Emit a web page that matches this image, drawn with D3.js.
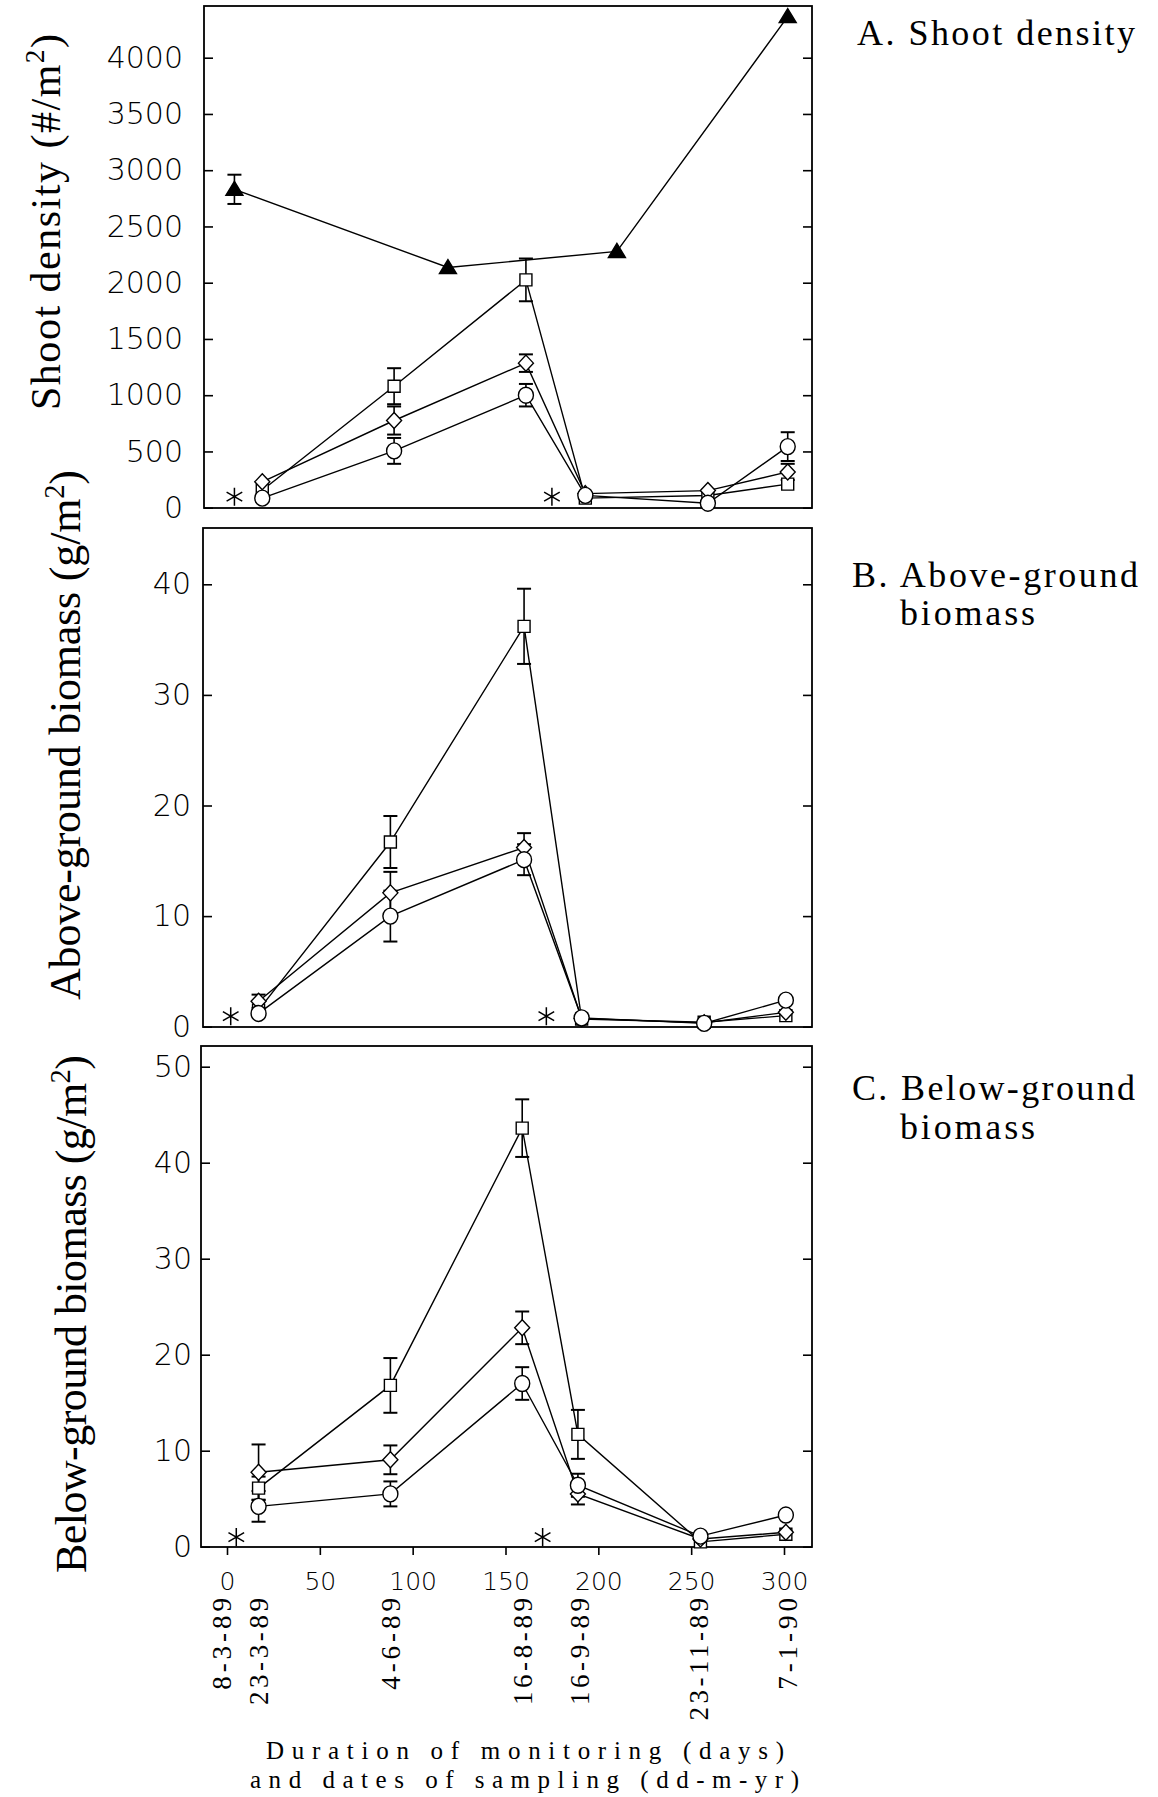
<!DOCTYPE html>
<html>
<head>
<meta charset="utf-8">
<script src="https://cdn.jsdelivr.net/npm/d3@7"></script>
<style>
  body { margin: 0; background: #fff; }
  svg { display: block; background: #fff; }
</style>
</head>
<body>
<svg></svg>
<script>
// sampling days as they sit in each panel
var daysA = [19, 90, 161, 193, 259, 302];
var daysB = [17, 88, 160, 191, 257, 301];
var daysC = [17, 88, 159, 189, 255, 301];

// A. shoot density (#/m2)
var shootCircle    = [85, 505, 1000, 110, 40, 543];
var shootCircleSE  = [0, 115, 100, 0, 0, 128];
var shootDiamond   = [230, 775, 1285, 125, 152, 318];
var shootDiamondSE = [0, 125, 78, 0, 0, 72];
var shootSquare    = [155, 1080, 2025, 85, 108, 210];
var shootSquareSE  = [0, 160, 190, 0, 0, 0];
var triangleDays   = [4, 119, 210, 302];
var shootTriangle  = [2830, 2135, 2278, 4365];
var shootTriangleSE = [130, 0, 0, 0];

// B. above-ground biomass (g/m2)
var aboveCircle    = [1.2, 10.0, 15.1, 0.8, 0.3, 2.4];
var aboveCircleSE  = [0, 2.3, 1.4, 0, 0, 0];
var aboveDiamond   = [2.3, 12.1, 16.2, 0.75, 0.35, 1.3];
var aboveDiamondSE = [0.6, 1.9, 1.3, 0, 0, 0];
var aboveSquare    = [1.5, 16.7, 36.2, 0.7, 0.4, 1.0];
var aboveSquareSE  = [0, 2.35, 3.4, 0, 0, 0];

// C. below-ground biomass (g/m2)
var belowCircle    = [4.2, 5.5, 17.0, 6.4, 1.1, 3.3];
var belowCircleSE  = [1.6, 1.3, 1.7, 1.2, 0, 0];
var belowDiamond   = [7.75, 9.05, 22.8, 5.5, 0.8, 1.5];
var belowDiamondSE = [2.9, 1.5, 1.7, 1.1, 0, 0];
var belowSquare    = [6.1, 16.8, 43.6, 11.7, 0.5, 1.3];
var belowSquareSE  = [1.2, 2.85, 3.0, 2.55, 0, 0];

// asterisks
var starDaysA = [4, 175],  starA = [98, 98];
var starDaysB = [2, 172],  starB = [0.95, 0.95];
var starDaysC = [5, 170],  starC = [1.0, 1.0];

// ticks and labels
var shootTicks = [0, 500, 1000, 1500, 2000, 2500, 3000, 3500, 4000];
var aboveTicks = [0, 10, 20, 30, 40];
var belowTicks = [0, 10, 20, 30, 40, 50];
var dayTicks = [0, 50, 100, 150, 200, 250, 300];
var dateLabels = ['8-3-89', '23-3-89', '4-6-89', '16-8-89', '16-9-89', '23-11-89', '7-1-90'];
var datePos = [-3, 17, 88, 159, 190, 254, 302];

var svgWidth = 1158;
var svgHeight = 1797;
var serif = '"Liberation Serif", serif';
var sans = '"DejaVu Sans", sans-serif';

var svg = d3.select('svg')
    .attr('width', svgWidth)
    .attr('height', svgHeight);

var x = d3.scaleLinear().domain([0, 300]).range([227, 784]);

var panels = [
  { left: 204, right: 812, top: 6, bottom: 508, pad: 21,
    y: d3.scaleLinear().domain([0, 4000]).range([507.7, 57.7]), ticks: shootTicks,
    series: [
      { shape: 'square', days: daysA, v: shootSquare, se: shootSquareSE },
      { shape: 'diamond', days: daysA, v: shootDiamond, se: shootDiamondSE },
      { shape: 'circle', days: daysA, v: shootCircle, se: shootCircleSE },
      { shape: 'triangle', days: triangleDays, v: shootTriangle, se: shootTriangleSE }
    ],
    stars: { days: starDaysA, v: starA },
    title: 'Shoot density (#/m', tx: 45, ty: 222, tlen: 376, tsize: 42,
    label: [{ t: 'A. Shoot density', x: 857, y: 45, len: 278 }] },
  { left: 203, right: 812, top: 528, bottom: 1027, pad: 12,
    y: d3.scaleLinear().domain([0, 40]).range([1026.7, 584.3]), ticks: aboveTicks,
    series: [
      { shape: 'square', days: daysB, v: aboveSquare, se: aboveSquareSE },
      { shape: 'diamond', days: daysB, v: aboveDiamond, se: aboveDiamondSE },
      { shape: 'circle', days: daysB, v: aboveCircle, se: aboveCircleSE }
    ],
    stars: { days: starDaysB, v: starB },
    title: 'Above-ground biomass (g/m', tx: 65, ty: 735, tlen: 530, tsize: 44,
    label: [{ t: 'B. Above-ground', x: 852, y: 587, len: 286 }, { t: 'biomass', x: 900, y: 625, len: 135 }] },
  { left: 201, right: 812, top: 1046, bottom: 1547, pad: 9,
    y: d3.scaleLinear().domain([0, 50]).range([1546.7, 1066.7]), ticks: belowTicks,
    series: [
      { shape: 'square', days: daysC, v: belowSquare, se: belowSquareSE },
      { shape: 'diamond', days: daysC, v: belowDiamond, se: belowDiamondSE },
      { shape: 'circle', days: daysC, v: belowCircle, se: belowCircleSE }
    ],
    stars: { days: starDaysC, v: starC },
    title: 'Below-ground biomass (g/m', tx: 71, ty: 1314, tlen: 518, tsize: 44,
    label: [{ t: 'C. Below-ground', x: 852, y: 1100, len: 283 }, { t: 'biomass', x: 900, y: 1139, len: 135 }] }
];

var shapes = {
  diamond: 'M0,-8L7.5,0L0,8L-7.5,0Z',
  square: 'M-6,-6H6V6H-6Z',
  triangle: 'M0,-8L8.5,6L-8.5,6Z'
};

panels.forEach(function(p) {
  var g = svg.append('g');

  // inward ticks on both sides
  var left = g.append('g')
      .attr('transform', 'translate(' + p.left + ',0)')
      .call(d3.axisLeft(p.y).tickValues(p.ticks).tickSize(-9).tickPadding(p.pad).tickFormat(d3.format('d')));
  left.select('.domain').remove();
  left.selectAll('line').attr('stroke-width', 1.6);
  left.selectAll('text').attr('font-family', sans).attr('font-weight', 200).attr('font-size', 30).attr('fill', '#000');

  var right = g.append('g')
      .attr('transform', 'translate(' + p.right + ',0)')
      .call(d3.axisRight(p.y).tickValues(p.ticks).tickSize(-9).tickFormat(''));
  right.select('.domain').remove();
  right.selectAll('line').attr('stroke-width', 1.6);

  g.append('rect')
      .attr('x', p.left).attr('y', p.top)
      .attr('width', p.right - p.left).attr('height', p.bottom - p.top)
      .attr('fill', 'none').attr('stroke', '#000').attr('stroke-width', 1.8);

  var line = d3.line()
      .x(function(d) { return x(d[0]); })
      .y(function(d) { return p.y(d[1]); });

  // lines first
  p.series.forEach(function(s) {
    g.append('path')
        .datum(s.days.map(function(d, i) { return [d, s.v[i]]; }))
        .attr('d', line)
        .attr('fill', 'none').attr('stroke', '#000').attr('stroke-width', 1.4);
  });

  // error bars
  p.series.forEach(function(s) {
    var pts = s.days.map(function(d, i) { return { d: d, v: s.v[i], se: s.se[i] }; })
        .filter(function(o) { return o.se > 0; });
    var eb = g.selectAll(null).data(pts).enter().append('g')
        .attr('stroke', '#000').attr('stroke-width', 1.6);
    eb.append('line')
        .attr('x1', function(o) { return x(o.d); }).attr('x2', function(o) { return x(o.d); })
        .attr('y1', function(o) { return p.y(o.v - o.se); }).attr('y2', function(o) { return p.y(o.v + o.se); });
    eb.append('line')
        .attr('x1', function(o) { return x(o.d) - 7; }).attr('x2', function(o) { return x(o.d) + 7; })
        .attr('y1', function(o) { return p.y(o.v + o.se); }).attr('y2', function(o) { return p.y(o.v + o.se); })
        .attr('stroke-width', 2);
    eb.append('line')
        .attr('x1', function(o) { return x(o.d) - 7; }).attr('x2', function(o) { return x(o.d) + 7; })
        .attr('y1', function(o) { return p.y(o.v - o.se); }).attr('y2', function(o) { return p.y(o.v - o.se); })
        .attr('stroke-width', 2);
  });

  // markers
  p.series.forEach(function(s) {
    var pts = s.days.map(function(d, i) { return [d, s.v[i]]; });
    if (s.shape == 'circle') {
      g.selectAll(null).data(pts).enter().append('ellipse')
          .attr('cx', function(d) { return x(d[0]); })
          .attr('cy', function(d) { return p.y(d[1]); })
          .attr('rx', 7.5).attr('ry', 8)
          .attr('fill', '#fff').attr('stroke', '#000').attr('stroke-width', 1.4);
    } else {
      g.selectAll(null).data(pts).enter().append('path')
          .attr('d', shapes[s.shape])
          .attr('transform', function(d) { return 'translate(' + x(d[0]) + ',' + p.y(d[1]) + ')'; })
          .attr('fill', s.shape == 'triangle' ? '#000' : '#fff')
          .attr('stroke', '#000').attr('stroke-width', 1.4);
    }
  });

  // asterisks
  g.selectAll(null).data(p.stars.days).enter().append('path')
      .attr('d', d3.symbol(d3.symbolAsterisk, 230))
      .attr('transform', function(d, i) { return 'translate(' + x(d) + ',' + p.y(p.stars.v[i]) + ')'; })
      .attr('fill', 'none').attr('stroke', '#000').attr('stroke-width', 1.5);

  // y title
  var t = g.append('text')
      .attr('transform', 'translate(' + p.tx + ',' + p.ty + ') rotate(-90)')
      .attr('text-anchor', 'middle')
      .attr('dy', '0.35em')
      .attr('font-family', serif).attr('font-size', p.tsize)
      .attr('textLength', p.tlen).attr('lengthAdjust', 'spacing');
  t.append('tspan').text(p.title);
  t.append('tspan').attr('dy', -16).attr('font-size', p.tsize * 0.65).text('2');
  t.append('tspan').attr('dy', 16).text(')');

  // panel label on the right
  p.label.forEach(function(l) {
    g.append('text')
        .attr('x', l.x).attr('y', l.y)
        .attr('font-family', serif).attr('font-size', 36)
        .attr('textLength', l.len).attr('lengthAdjust', 'spacing')
        .text(l.t);
  });
});

// bottom axis on the last panel
var last = panels[2];
var bottom = svg.append('g')
    .attr('transform', 'translate(0,' + last.bottom + ')')
    .call(d3.axisBottom(x).tickValues(dayTicks).tickSize(8).tickPadding(17).tickFormat(d3.format('d')));
bottom.select('.domain').remove();
bottom.selectAll('line').attr('stroke-width', 1.6);
bottom.selectAll('text').attr('font-family', sans).attr('font-weight', 200).attr('font-size', 25).attr('fill', '#000');

// sampling dates, rotated
svg.selectAll('.date').data(dateLabels).enter().append('text')
    .attr('class', 'date')
    .attr('transform', function(d, i) {
      return 'translate(' + x(datePos[i]) + ',1598) rotate(-90)';
    })
    .attr('text-anchor', 'end')
    .attr('dy', '0.35em')
    .attr('font-family', serif).attr('font-size', 27)
    .attr('textLength', function(d) { return d.length * 15.3; })
    .attr('lengthAdjust', 'spacing')
    .text(function(d) { return d; });

// x title, two lines
svg.append('text')
    .attr('x', 266).attr('y', 1759)
    .attr('font-family', serif).attr('font-size', 25)
    .attr('textLength', 518).attr('lengthAdjust', 'spacing')
    .text('Duration of monitoring (days)');
svg.append('text')
    .attr('x', 250).attr('y', 1788)
    .attr('font-family', serif).attr('font-size', 25)
    .attr('textLength', 549).attr('lengthAdjust', 'spacing')
    .text('and dates of sampling (dd-m-yr)');
</script>
</body>
</html>
